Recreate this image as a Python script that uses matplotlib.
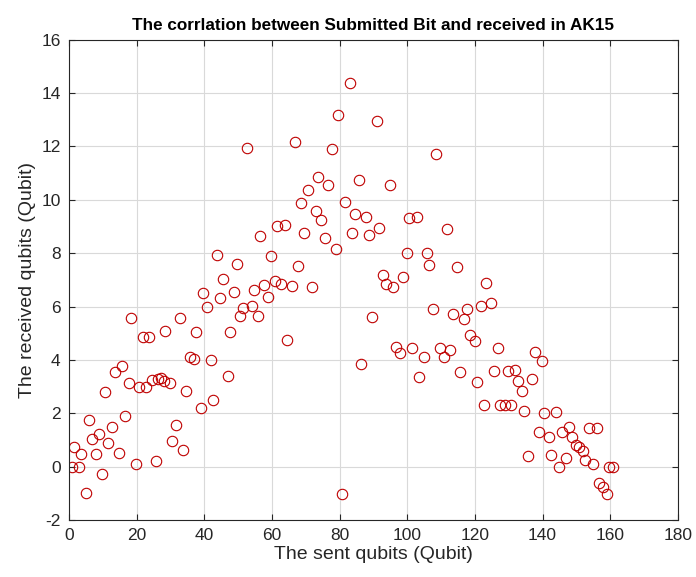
import matplotlib.pyplot as plt

plt.rcParams['font.family'] = ['Liberation Sans', 'DejaVu Sans']
plt.rcParams['axes.unicode_minus'] = False

# sent qubits vs received qubits
sent = [0.8, 1.6, 3.0, 3.7, 5.0, 5.9, 6.7, 7.9, 8.9, 9.8, 10.8, 11.6, 12.8, 13.7,
        14.9, 15.7, 16.6, 17.8, 18.5, 19.9, 20.6, 21.9, 22.7, 23.7, 24.7, 25.8,
        26.2, 27.1, 28.2, 28.5, 29.8, 30.6, 31.8, 32.8, 33.6, 34.6, 35.7, 37.0,
        37.5, 38.9, 39.7, 40.7, 41.9, 42.6, 43.9, 44.8, 45.4, 46.9, 47.6, 48.8,
        49.7, 50.5, 51.5, 52.7, 54.0, 54.6, 55.9, 56.6, 57.6, 58.9, 59.6, 60.8,
        61.5, 62.6, 63.8, 64.6, 66.0, 66.7, 67.6, 68.7, 69.5, 70.7, 71.8, 72.9,
        73.7, 74.6, 75.8, 76.6, 77.9, 78.8, 79.6, 80.8, 81.5, 83.0, 83.7, 84.5,
        85.8, 86.4, 87.7, 88.7, 89.5, 91.0, 91.6, 92.7, 93.7, 94.8, 95.8, 96.6,
        97.8, 98.6, 99.9, 100.5, 101.5, 102.9, 103.5, 104.9, 105.7, 106.4, 107.6,
        108.4, 109.6, 110.8, 111.8, 112.6, 113.5, 114.7, 115.5, 116.8, 117.7,
        118.5, 120.0, 120.6, 121.7, 122.6, 123.4, 124.9, 125.6, 126.8, 127.5,
        128.8, 129.8, 130.8, 131.8, 132.8, 134.0, 134.5, 135.7, 136.9, 137.7,
        138.9, 139.8, 140.4, 141.9, 142.6, 143.9, 144.8, 145.8, 146.8, 147.7,
        148.8, 149.8, 150.7, 151.9, 152.6, 153.7, 155.0, 156.1, 156.7, 157.9,
        158.9, 159.6, 160.9]
received = [0.0, 0.74, 0.0, 0.47, -1.0, 1.73, 1.03, 0.47, 1.22, -0.27, 2.78, 0.88,
            1.47, 3.53, 0.51, 3.78, 1.9, 3.15, 5.56, 0.09, 2.98, 4.84, 2.98, 4.84,
            3.24, 0.19, 3.28, 3.31, 3.21, 5.09, 3.15, 0.97, 1.55, 5.56, 0.62, 2.84,
            4.09, 4.03, 5.06, 2.19, 6.5, 6.0, 4.0, 2.5, 7.92, 6.31, 7.05, 3.38,
            5.05, 6.55, 7.58, 5.63, 5.96, 11.95, 6.02, 6.62, 5.63, 8.64, 6.8, 6.37,
            7.9, 6.96, 9.02, 6.84, 9.06, 4.74, 6.77, 12.16, 7.52, 9.9, 8.75, 10.37,
            6.73, 9.58, 10.87, 9.24, 8.58, 10.55, 11.92, 8.17, 13.17, -1.03, 9.92,
            14.39, 8.75, 9.46, 10.74, 3.84, 9.37, 8.67, 5.59, 12.95, 8.96, 7.18,
            6.86, 10.54, 6.75, 4.49, 4.25, 7.12, 8.0, 9.33, 4.43, 9.37, 3.36, 4.09,
            8.0, 7.55, 5.9, 11.7, 4.43, 4.09, 8.92, 4.36, 5.71, 7.5, 3.55, 5.52,
            5.9, 4.93, 4.71, 3.18, 6.02, 2.3, 6.9, 6.12, 3.59, 4.46, 2.3, 2.3, 3.59,
            2.3, 3.63, 3.21, 2.84, 2.09, 0.41, 3.28, 4.28, 1.3, 3.95, 2.0, 1.12,
            0.43, 2.03, -0.03, 1.3, 0.31, 1.49, 1.09, 0.81, 0.72, 0.59, 0.24, 1.43,
            0.09, 1.43, -0.63, -0.78, -1.03, 0.0, 0.0]

fig = plt.figure(figsize=(6.96, 5.77), dpi=100)
ax = fig.add_axes([0.099, 0.099, 0.875, 0.832])

ax.plot(sent, received, 'o', markersize=7.5, markerfacecolor='none',
        markeredgecolor=(0.75, 0.0, 0.0), markeredgewidth=0.8)

ax.set_xlim(0, 180)
ax.set_ylim(-2, 16)
ax.set_xticks(range(0, 181, 20))
ax.set_yticks(range(-2, 17, 2))
ax.grid(True, color=(0.85, 0.85, 0.85), linewidth=0.8)
ax.set_axisbelow(True)
ax.tick_params(direction='in', top=True, right=True, length=4, pad=6,
               labelsize=12.5, colors=(0.15, 0.15, 0.15))
for s in ax.spines.values():
    s.set_color((0.15, 0.15, 0.15))
    s.set_linewidth(0.8)

ax.set_xlabel('The sent qubits (Qubit)', fontsize=14, color=(0.15, 0.15, 0.15),
              labelpad=2)
ax.set_ylabel('The received qubits (Qubit)', fontsize=14, color=(0.15, 0.15, 0.15),
              labelpad=4)
ax.set_title('The corrlation between Submitted Bit and received in AK15',
             fontsize=12.3, fontweight='bold', pad=7)

fig.savefig('out.png', dpi=100)
